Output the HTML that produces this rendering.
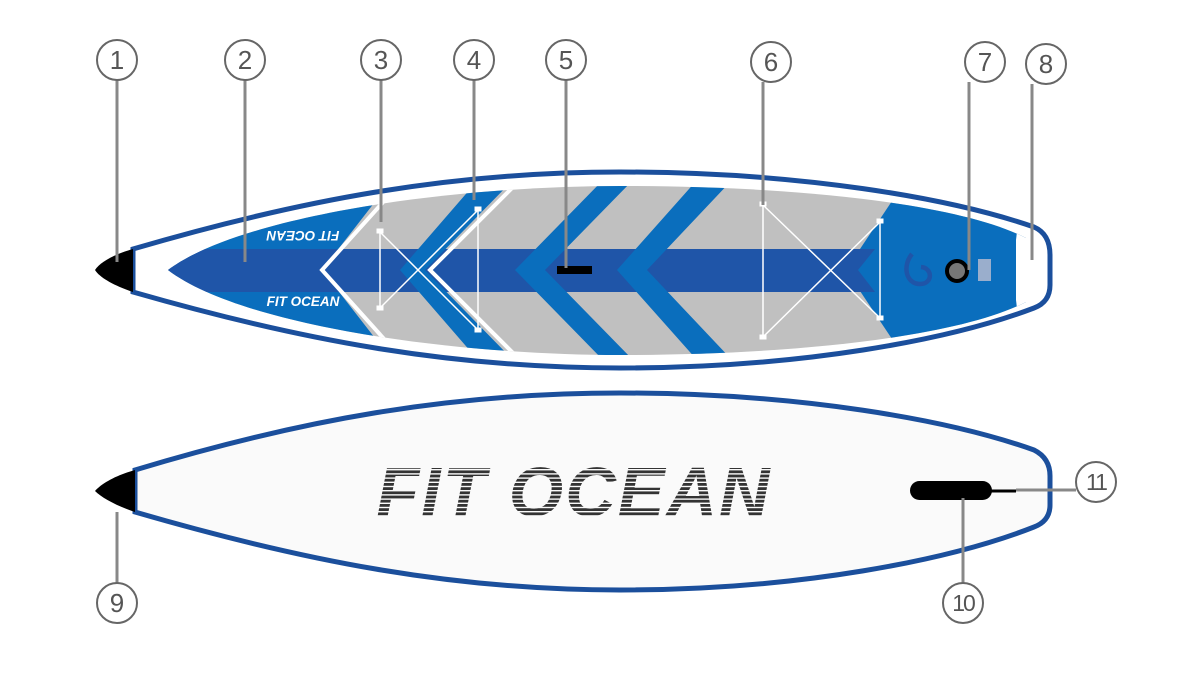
<!DOCTYPE html>
<html><head><meta charset="utf-8"><style>
html,body{margin:0;padding:0;background:#fff;width:1200px;height:675px;overflow:hidden}
</style></head><body>
<svg width="1200" height="675" viewBox="0 0 1200 675" xmlns="http://www.w3.org/2000/svg">
<defs>
<clipPath id="deck"><path d="M168,270 C240,216 450,186 620,186 C800,186 960,204 1026,238 L1026,302 C960,336 800,355 620,355 C450,355 240,325 168,270 Z"/></clipPath>
<pattern id="stripes" width="10" height="4.2" patternUnits="userSpaceOnUse"><rect width="10" height="2.8" fill="#333"/></pattern>
</defs>
<path d="M133,249 C300,200 450,172 620,172 C800,172 950,198 1034,227 Q1050,234 1050,255 L1050,285 Q1050,302 1034,308 C950,340 800,368 620,368 C450,368 300,340 133,292 Z" fill="#fff" stroke="#1b4f9c" stroke-width="5"/>
<path d="M133,249 L133,292 C115,286 100,278 95,270 C100,262 115,254 133,249 Z" fill="#000"/>
<g clip-path="url(#deck)">
 <rect x="150" y="180" width="900" height="180" fill="#c0c0c0"/>
 <polygon points="150,180 392,180 322,270 392,360 150,360" fill="#0a6ebd"/>
 <polygon points="906,180 1100,180 1100,360 906,360 846,270" fill="#0a6ebd"/>
 <path d="M1015,180 L1100,180 1100,360 1015,360 Q1020,330 1016,300 L1016,240 Q1020,210 1015,180 Z" fill="#fff"/>
 <polygon points="150,249 875,249 858,270 875,292 150,292" fill="#1f55a8"/>
 <polygon points="478,180 513,180 425,270 513,360 478,360 400,270" fill="#0a6ebd"/>
 <polygon points="603,180 633,180 545,270 633,360 603,360 515,270" fill="#0a6ebd"/>
 <polygon points="697,180 732,180 647,270 732,360 697,360 617,270" fill="#0a6ebd"/>
 <polyline points="394,190 322,270 394,350" fill="none" stroke="#fff" stroke-width="4"/>
 <polyline points="520,180 430,270 520,360" fill="none" stroke="#fff" stroke-width="4"/>
</g>
<text x="303" y="306" font-family="Liberation Sans,sans-serif" font-weight="bold" font-style="italic" font-size="13.5" fill="#fff" text-anchor="middle">FIT OCEAN</text>
<text x="303" y="241" font-family="Liberation Sans,sans-serif" font-weight="bold" font-style="italic" font-size="13.5" fill="#fff" text-anchor="middle" transform="rotate(180 303 236)">FIT OCEAN</text>
<g stroke="#fff" stroke-width="1.5" fill="none">
 <line x1="380" y1="232" x2="380" y2="308"/><line x1="478" y1="210" x2="478" y2="330"/>
 <line x1="380" y1="232" x2="478" y2="330"/><line x1="380" y1="308" x2="478" y2="210"/>
 <line x1="763" y1="205" x2="763" y2="337"/><line x1="880" y1="222" x2="880" y2="318"/>
 <line x1="763" y1="205" x2="880" y2="318"/><line x1="763" y1="337" x2="880" y2="222"/>
</g>
<g fill="#fff" stroke="#fff" stroke-width="1">
 <rect x="377" y="229" width="6" height="4"/><rect x="377" y="306" width="6" height="4"/>
 <rect x="475" y="207" width="6" height="4"/><rect x="475" y="328" width="6" height="4"/>
 <rect x="760" y="202" width="6" height="4"/><rect x="760" y="335" width="6" height="4"/>
 <rect x="877" y="219" width="6" height="4"/><rect x="877" y="316" width="6" height="4"/>
</g>
<rect x="557" y="266" width="35" height="8" fill="#000"/>
<path d="M912,254 C902,266 906,284 920,284 C933,284 933,268 921,267" fill="none" stroke="#1f55a8" stroke-width="4.5"/>
<circle cx="957" cy="271" r="10" fill="#777" stroke="#000" stroke-width="4"/>
<rect x="978" y="259" width="13" height="22" fill="#9aaecc"/>
<path d="M135,470 C300,420 450,393 620,393 C800,393 950,420 1034,450 Q1050,458 1050,476 L1050,505 Q1050,521 1034,527 C950,560 800,590 620,590 C450,590 300,560 135,512 Z" fill="#fafafa" stroke="#1b4f9c" stroke-width="5"/>
<path d="M135,470 L135,512 C117,506 102,498 95,491 C102,483 117,475 135,470 Z" fill="#000"/>
<text x="574" y="516" font-family="Liberation Sans,sans-serif" font-weight="bold" font-style="italic" font-size="70" fill="url(#stripes)" text-anchor="middle" letter-spacing="2">FIT OCEAN</text>
<rect x="910" y="481" width="82" height="19" rx="9.5" fill="#000"/>
<line x1="990" y1="491" x2="1016" y2="491" stroke="#000" stroke-width="3"/>
<g stroke="#888" stroke-width="3" fill="none">
 <line x1="117" y1="80" x2="117" y2="262"/>
 <line x1="245" y1="80" x2="245" y2="262"/>
 <line x1="381" y1="80" x2="381" y2="222"/>
 <line x1="474" y1="80" x2="474" y2="200"/>
 <line x1="566" y1="80" x2="566" y2="268"/>
 <line x1="763" y1="82" x2="763" y2="205"/>
 <line x1="969" y1="82" x2="969" y2="270"/>
 <line x1="1032" y1="84" x2="1032" y2="260"/>
 <line x1="117" y1="512" x2="117" y2="583"/>
 <line x1="963" y1="498" x2="963" y2="583"/>
 <line x1="1016" y1="490" x2="1076" y2="490"/>
</g>
<g fill="#fff" stroke="#666" stroke-width="2">
 <circle cx="117" cy="60" r="20"/><circle cx="245" cy="60" r="20"/><circle cx="381" cy="60" r="20"/>
 <circle cx="474" cy="60" r="20"/><circle cx="566" cy="60" r="20"/><circle cx="771" cy="62" r="20"/>
 <circle cx="985" cy="62" r="20"/><circle cx="1046" cy="64" r="20"/>
 <circle cx="117" cy="603" r="20"/><circle cx="963" cy="603" r="20"/><circle cx="1096" cy="482" r="20"/>
</g>
<g font-family="Liberation Sans,sans-serif" font-size="26" fill="#555" text-anchor="middle">
 <text x="117" y="69">1</text><text x="245" y="69">2</text><text x="381" y="69">3</text>
 <text x="474" y="69">4</text><text x="566" y="69">5</text><text x="771" y="71">6</text>
 <text x="985" y="71">7</text><text x="1046" y="73">8</text><text x="117" y="612">9</text>
 <text x="963" y="611" font-size="23" letter-spacing="-2">10</text><text x="1096" y="490" font-size="23" letter-spacing="-2">11</text>
</g>
</svg>
</body></html>
